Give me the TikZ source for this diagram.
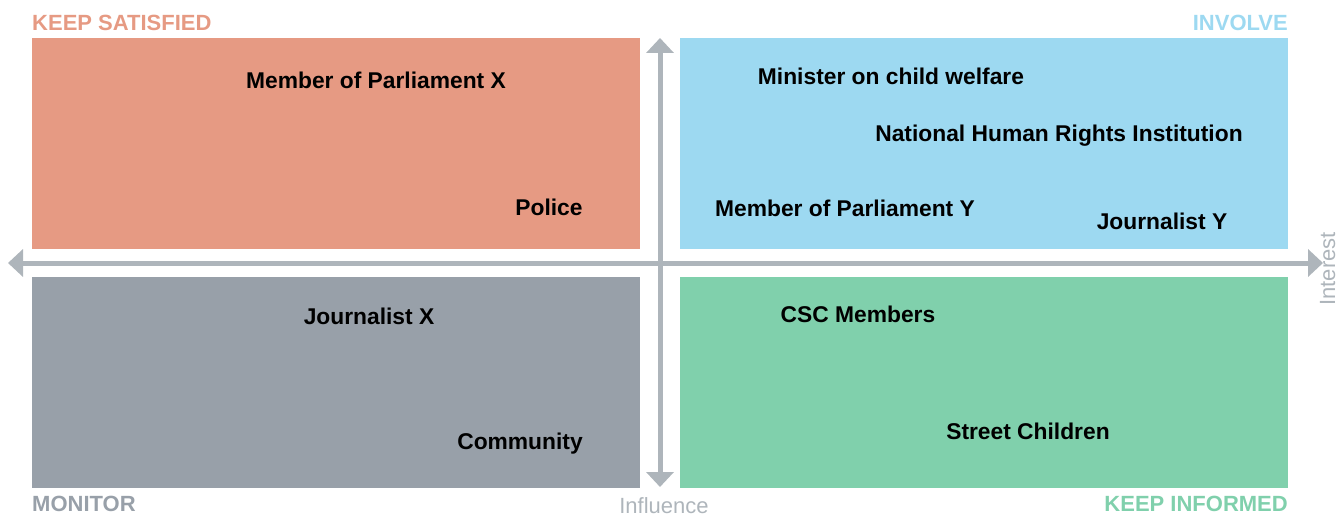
\documentclass[tikz,border=0pt]{standalone}
\usepackage{fontspec}
\setmainfont{Liberation Sans}
\usetikzlibrary{arrows.meta}
\definecolor{satisfied}{HTML}{E69A83}
\definecolor{involve}{HTML}{9DD9F1}
\definecolor{monitor}{HTML}{98A0A9}
\definecolor{informed}{HTML}{80D0AC}
\definecolor{axisgray}{HTML}{AEB5BB}
\tikzset{
  stake/.style = {font=\fontsize{22.8}{26}\selectfont\bfseries,
                  inner sep=0pt, anchor=base},
  corner/.style = {font=\fontsize{22}{25}\selectfont\bfseries,
                   inner sep=0pt},
  axislabel/.style = {font=\fontsize{22}{25}\selectfont, text=axisgray,
                      inner sep=0pt, anchor=base},
  axisline/.style = {draw=axisgray, line width=5pt, {Triangle[length=15pt,width=27pt]}-{Triangle[length=15pt,width=27pt]}}
}

\begin{document}
\begin{tikzpicture}[x=1pt,y=1pt]
	\useasboundingbox (0,0) rectangle (1338,515);

	% Quadrants
	\fill[satisfied] (32,266) rectangle (640,477); % keep satisfied
	\fill[involve]   (680,266) rectangle (1288,477); % involve
	\fill[monitor]   (32,27) rectangle (640,238); % monitor
	\fill[informed]  (680,27) rectangle (1288,238); % keep informed

	% Axes
	\coordinate (west)  at (8,252);
	\coordinate (east)  at (1323,252);
	\coordinate (north) at (660,477);
	\coordinate (south) at (660,28);
	\draw[axisline] (west) -- (east);
	\draw[axisline] (north) -- (south);
	\node[axislabel] (influence) at (664,2) {Influence};
	\node[axislabel, rotate=90] (interest) at (1335,246) {Interest};

	% Corner labels
	\node[corner, anchor=base west, text=satisfied] (ksat) at (32,484) {KEEP SATISFIED};
	\node[corner, anchor=base east, text=involve]   (inv)  at (1288,484) {INVOLVE};
	\node[corner, anchor=base west, text=monitor]   (mon)  at (32,4) {MONITOR};
	\node[corner, anchor=base east, text=informed]  (kinf) at (1288,4) {KEEP INFORMED};

	% Stakeholders
	\node[stake] (mpx)      at (376,426)  {Member of Parliament X};
	\node[stake] (police)   at (549,300)  {Police};
	\node[stake] (minister) at (891,430)  {Minister on child welfare};
	\node[stake] (nhri)     at (1059,373) {National Human Rights Institution};
	\node[stake] (mpy)      at (845,299)  {Member of Parliament Y};
	\node[stake] (journy)   at (1162,286) {Journalist Y};
	\node[stake] (journx)   at (369,191)  {Journalist X};
	\node[stake] (comm)     at (520,66)   {Community};
	\node[stake] (csc)      at (858,193)  {CSC Members};
	\node[stake] (street)   at (1028,76)  {Street Children};
\end{tikzpicture}
\end{document}
